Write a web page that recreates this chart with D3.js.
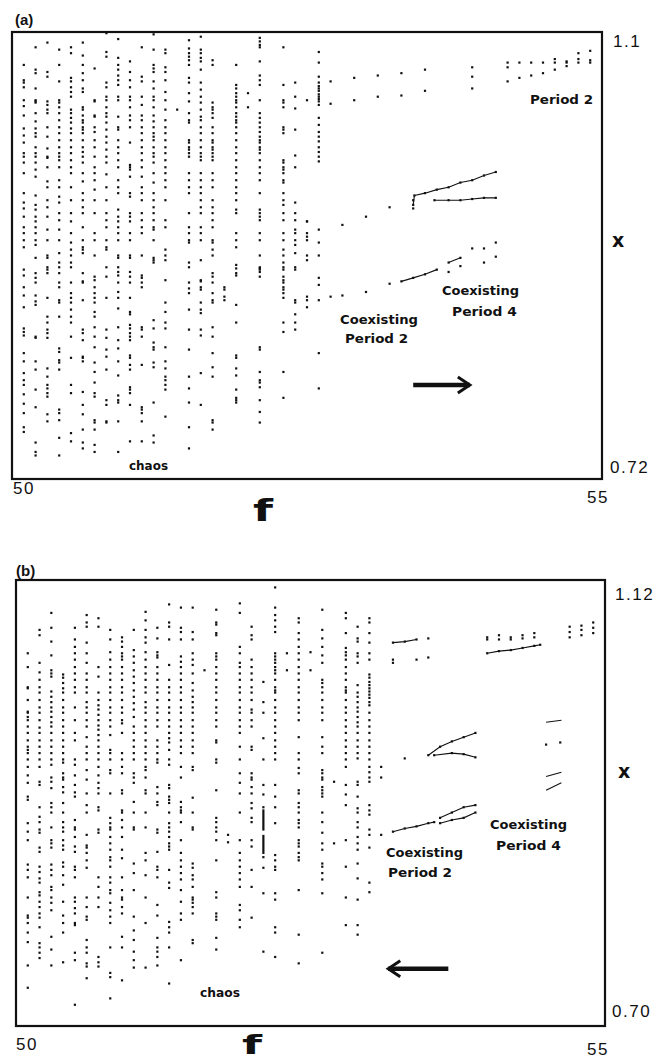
<!DOCTYPE html>
<html>
<head>
<meta charset="utf-8">
<script src="https://cdn.jsdelivr.net/npm/d3@7"></script>
<style>
  body { margin: 0; background: #fff; }
  .tick { font-family: "Liberation Sans", Arial, sans-serif; font-size: 17px; letter-spacing: 1.5px; fill: #111; }
  .note { font-family: "DejaVu Sans Condensed", "DejaVu Sans", sans-serif; font-weight: bold; font-size: 13px; fill: #111; }
  .tag  { font-family: "Liberation Sans", Arial, sans-serif; font-weight: bold; font-size: 15px; fill: #111; }
  .axv  { font-family: "DejaVu Sans", sans-serif; font-weight: bold; fill: #111; }
</style>
</head>
<body>
<script>
// ---------- panel (a): increasing f ----------
// chaotic band, one column of x values per f
var chaosA_f = [50.1, 50.2, 50.3, 50.4, 50.5, 50.6, 50.7, 50.8, 50.9, 51.0, 51.1, 51.2, 51.3,
  51.4, 51.5, 51.6, 51.7, 51.8, 51.9, 52.0, 52.1, 52.3, 52.4, 52.5, 52.6];
var chaosA_x = [
  [1.072,1.059,1.057,1.053,1.042,1.037,1.029,1.018,1.012,1.006,0.997,0.994,0.989,0.980,0.963,0.955,0.950,0.943,0.934,0.929,0.923,0.917,0.898,0.893,0.883,0.876,0.866,0.848,0.845,0.842,0.827,0.820,0.810,0.804,0.800,0.792,0.784,0.776,0.764,0.760],
  [1.087,1.068,1.065,1.052,1.042,1.041,1.040,1.031,1.024,1.018,1.014,1.011,1.002,0.997,0.994,0.989,0.983,0.977,0.961,0.953,0.949,0.943,0.939,0.934,0.929,0.923,0.919,0.908,0.895,0.891,0.887,0.876,0.871,0.868,0.841,0.840,0.820,0.813,0.796,0.781,0.751,0.743,0.740],
  [1.091,1.066,1.062,1.041,1.038,1.034,1.031,1.019,1.011,1.001,0.994,0.993,0.985,0.973,0.968,0.957,0.951,0.943,0.932,0.923,0.910,0.908,0.900,0.898,0.895,0.874,0.858,0.853,0.847,0.844,0.840,0.814,0.807,0.800,0.797,0.793,0.790,0.775,0.769],
  [1.085,1.072,1.058,1.042,1.040,1.036,1.031,1.025,1.019,1.014,1.008,1.002,0.997,0.994,0.991,0.985,0.974,0.968,0.960,0.955,0.946,0.940,0.932,0.923,0.912,0.904,0.900,0.895,0.887,0.883,0.872,0.870,0.858,0.831,0.828,0.821,0.819,0.813,0.779,0.776,0.770,0.755,0.740],
  [1.087,1.082,1.061,1.058,1.053,1.049,1.045,1.034,1.031,1.027,1.023,1.018,1.014,1.008,1.002,0.997,0.991,0.985,0.980,0.968,0.957,0.946,0.939,0.929,0.921,0.915,0.910,0.904,0.900,0.887,0.878,0.874,0.870,0.864,0.858,0.853,0.841,0.823,0.800,0.793,0.759,0.752],
  [1.091,1.080,1.072,1.065,1.059,1.052,1.049,1.036,1.034,1.029,1.025,1.023,1.019,1.017,1.014,1.008,1.002,0.998,0.994,0.989,0.980,0.973,0.963,0.957,0.951,0.946,0.934,0.923,0.917,0.915,0.912,0.895,0.888,0.887,0.872,0.847,0.844,0.838,0.824,0.823,0.820,0.794,0.783,0.775,0.762,0.751,0.746],
  [1.069,1.042,1.041,1.029,1.028,1.019,1.015,1.008,1.002,0.994,0.985,0.980,0.974,0.966,0.957,0.946,0.929,0.923,0.910,0.892,0.889,0.883,0.878,0.874,0.870,0.862,0.858,0.849,0.841,0.832,0.819,0.811,0.802,0.793,0.790,0.770,0.768,0.762,0.749,0.743],
  [1.099,1.083,1.079,1.057,1.053,1.045,1.042,1.036,1.031,1.028,1.023,1.017,1.011,1.006,1.000,0.994,0.989,0.979,0.968,0.957,0.946,0.940,0.934,0.923,0.917,0.915,0.900,0.892,0.874,0.847,0.840,0.830,0.824,0.813,0.787,0.783,0.769,0.768],
  [1.094,1.078,1.072,1.068,1.063,1.059,1.055,1.045,1.042,1.028,1.019,1.017,1.008,1.002,0.997,0.991,0.985,0.974,0.968,0.963,0.949,0.943,0.939,0.934,0.929,0.923,0.910,0.908,0.900,0.896,0.893,0.887,0.879,0.874,0.865,0.849,0.838,0.831,0.820,0.808,0.791,0.787,0.785,0.769,0.743],
  [1.075,1.066,1.059,1.053,1.045,1.042,1.036,1.029,1.025,1.019,1.006,0.987,0.985,0.983,0.977,0.963,0.960,0.946,0.943,0.939,0.929,0.923,0.910,0.908,0.896,0.892,0.887,0.874,0.862,0.860,0.851,0.848,0.844,0.841,0.838,0.825,0.823,0.817,0.813,0.798,0.796,0.793,0.783,0.752],
  [1.087,1.062,1.058,1.045,1.038,1.029,1.025,1.019,1.014,1.008,1.002,0.997,0.991,0.985,0.977,0.968,0.963,0.957,0.946,0.940,0.934,0.929,0.910,0.893,0.891,0.887,0.883,0.849,0.847,0.841,0.817,0.781,0.779,0.776,0.769,0.752],
  [1.098,1.085,1.072,1.069,1.066,1.058,1.052,1.045,1.042,1.036,1.029,1.024,1.019,1.014,1.011,1.008,1.002,0.997,0.994,0.989,0.980,0.972,0.963,0.957,0.951,0.946,0.940,0.934,0.932,0.923,0.908,0.906,0.904,0.855,0.848,0.836,0.832,0.830,0.819,0.815,0.785,0.757,0.751],
  [1.085,1.082,1.070,1.066,1.059,1.049,1.042,1.034,1.025,1.019,1.014,1.008,1.002,0.997,0.991,0.985,0.980,0.974,0.968,0.957,0.940,0.934,0.915,0.910,0.906,0.889,0.870,0.862,0.853,0.848,0.832,0.820,0.814,0.807,0.804,0.800,0.796,0.773],
  [1.034],
  [1.093,1.086,1.082,1.079,1.076,1.072,1.061,1.057,1.048,1.041,1.031,1.025,1.023,1.008,1.006,1.002,1.000,0.997,0.994,0.980,0.974,0.968,0.963,0.946,0.934,0.929,0.923,0.921,0.904,0.900,0.887,0.882,0.878,0.864,0.847,0.830,0.807,0.797,0.785,0.764,0.746],
  [1.096,1.085,1.082,1.078,1.075,1.068,1.057,1.051,1.045,1.040,1.034,1.028,1.025,1.019,1.014,1.008,1.002,0.997,0.994,0.991,0.980,0.974,0.968,0.963,0.957,0.951,0.946,0.934,0.929,0.923,0.906,0.889,0.888,0.883,0.881,0.870,0.864,0.861,0.847,0.842,0.810,0.783],
  [1.076,1.072,1.040,1.036,1.034,1.031,1.027,1.019,1.014,1.008,1.006,1.002,1.000,0.997,0.994,0.991,0.980,0.974,0.968,0.957,0.951,0.946,0.940,0.934,0.923,0.921,0.915,0.910,0.895,0.892,0.887,0.878,0.872,0.870,0.849,0.841,0.827,0.815,0.807,0.770,0.768,0.762],
  [0.883,0.881,0.875,0.872],
  [1.072,1.055,1.052,1.048,1.045,1.042,1.040,1.036,1.031,1.028,1.025,1.023,1.019,1.014,1.008,1.002,0.997,0.991,0.985,0.980,0.974,0.968,0.963,0.957,0.949,0.946,0.929,0.923,0.917,0.902,0.899,0.895,0.893,0.868,0.853,0.825,0.823,0.814,0.808,0.796,0.789,0.787,0.785],
  [1.048,1.036],
  [1.095,1.092,1.089,1.087,1.075,1.063,1.059,1.055,1.042,1.031,1.027,1.023,1.019,1.015,1.011,1.008,1.006,1.002,1.000,0.997,0.991,0.985,0.980,0.974,0.963,0.949,0.946,0.943,0.940,0.929,0.923,0.910,0.900,0.899,0.898,0.896,0.892,0.832,0.830,0.811,0.804,0.802,0.798,0.787,0.777,0.768],
  [1.087,1.055,1.042,1.040,1.036,1.019,1.017,1.014,0.991,0.989,0.985,0.983,0.980,0.974,0.972,0.963,0.957,0.953,0.946,0.940,0.929,0.923,0.915,0.910,0.904,0.900,0.898,0.892,0.889,0.887,0.883,0.881,0.878,0.874,0.853,0.845,0.811,0.789],
  [1.057,1.045,1.035,1.017,0.995,0.985,0.955,0.946,0.940,0.932,0.929,0.923,0.919,0.912,0.900,0.898,0.872,0.870,0.860,0.853,0.847],
  [1.042,0.939,0.929,0.926,0.923,0.910,0.906,0.875,0.872,0.866],
  [1.083,1.074,1.062,1.057,1.054,1.052,1.050,1.047,1.045,1.043,1.041,1.038,1.027,1.021,1.015,1.011,1.007,1.002,0.998,0.994,0.990,0.932,0.921,0.910,0.891,0.885,0.872,0.827,0.797]
];
// main period-2 branch
var p2A_f = [52.7,52.7,52.9,52.9,53.1,53.1,53.3,53.3,53.5,53.5,53.9,53.9,53.9,54.2,54.2,54.2,54.3,54.3,54.4,54.4,54.5,54.5,54.6,54.6,54.6,54.7,54.7,54.7,54.8,54.8,54.8,54.9,54.9,54.9];
var p2A_x = [1.058,1.039,1.061,1.042,1.063,1.045,1.065,1.046,1.068,1.050,1.070,1.062,1.052,1.074,1.070,1.058,1.074,1.061,1.074,1.063,1.074,1.065,1.077,1.074,1.068,1.075,1.074,1.071,1.082,1.077,1.074,1.084,1.076,1.074];
// coexisting period 2 / period 4 branches
var coexUpA   = [[52.5,0.939],[52.8,0.936],[53.0,0.943],[53.2,0.951],[53.4,0.950],[53.4,0.953],[53.4,0.957]];
var p4UpHiA   = [[53.41,0.961],[53.5,0.963],[53.6,0.966],[53.7,0.968],[53.8,0.972],[53.9,0.974],[54.0,0.978],[54.1,0.981]];
var p4UpLoA   = [[53.58,0.957],[53.7,0.957],[53.8,0.957],[53.9,0.958],[54.0,0.959],[54.1,0.959]];
var coexLoA   = [[52.7,0.875],[52.8,0.876],[53.0,0.879],[53.2,0.886],[53.3,0.888],[53.4,0.891],[53.5,0.894],[53.6,0.898]];
var p4LoHiA   = [[53.7,0.904],[53.8,0.908],[53.9,0.916],[54.0,0.916],[54.1,0.921]];
var p4LoLoA   = [[53.7,0.896],[53.8,0.901],[54.0,0.904],[54.1,0.909]];

// ---------- panel (b): decreasing f ----------
var chaosB_f = [50.1, 50.2, 50.3, 50.4, 50.5, 50.6, 50.7, 50.8, 50.9, 51.0, 51.1, 51.2, 51.3, 51.4, 51.5, 51.6,
  51.7, 51.8, 51.9, 52.0, 52.1, 52.2, 52.3, 52.4, 52.5, 52.6, 52.7, 52.8, 52.9, 53.0, 53.1];
var chaosB_x = [
  [1.051,1.038,1.019,1.018,1.007,0.996,0.995,0.991,0.988,0.982,0.976,0.969,0.963,0.960,0.957,0.951,0.944,0.936,0.929,0.916,0.913,0.891,0.883,0.875,0.852,0.847,0.840,0.821,0.804,0.802,0.797,0.788,0.779,0.757,0.736],
  [1.073,1.068,1.042,1.033,1.026,1.019,1.014,1.007,1.000,0.995,0.988,0.981,0.976,0.969,0.963,0.957,0.951,0.944,0.930,0.927,0.906,0.897,0.892,0.885,0.882,0.868,0.864,0.850,0.845,0.839,0.835,0.826,0.823,0.817,0.812,0.806,0.802,0.793,0.778,0.774,0.769,0.764],
  [1.089,1.075,1.062,1.049,1.035,1.032,1.029,1.015,1.010,1.005,1.000,0.996,0.991,0.986,0.982,0.976,0.969,0.963,0.957,0.951,0.946,0.934,0.930,0.924,0.910,0.906,0.901,0.887,0.875,0.872,0.868,0.852,0.847,0.842,0.831,0.828,0.821,0.816,0.809,0.784,0.772,0.757],
  [1.031,1.028,1.023,1.018,1.014,1.007,1.000,0.995,0.988,0.982,0.976,0.969,0.963,0.957,0.951,0.948,0.938,0.934,0.932,0.925,0.920,0.910,0.901,0.892,0.887,0.883,0.875,0.870,0.866,0.854,0.850,0.842,0.833,0.817,0.804,0.797,0.788,0.760],
  [1.075,1.064,1.057,1.051,1.045,1.038,1.032,1.026,1.019,1.014,1.000,0.988,0.976,0.969,0.951,0.946,0.936,0.927,0.920,0.916,0.894,0.887,0.885,0.878,0.869,0.864,0.850,0.847,0.840,0.821,0.817,0.811,0.806,0.797,0.795,0.769,0.762,0.720],
  [1.087,1.080,1.076,1.061,1.051,1.042,1.032,1.026,1.019,1.014,1.005,1.000,0.995,0.988,0.982,0.972,0.963,0.957,0.951,0.941,0.932,0.919,0.908,0.901,0.880,0.870,0.868,0.863,0.856,0.849,0.821,0.812,0.803,0.800,0.781,0.774,0.769,0.759,0.756,0.745],
  [1.084,1.076,1.038,1.029,1.014,1.007,1.002,0.998,0.993,0.988,0.983,0.979,0.974,0.969,0.963,0.957,0.951,0.944,0.936,0.929,0.924,0.919,0.906,0.903,0.885,0.882,0.840,0.831,0.821,0.812,0.765,0.760,0.756],
  [1.073,1.064,1.052,1.045,1.038,1.032,1.026,1.019,1.014,1.007,1.000,0.995,0.988,0.982,0.974,0.960,0.957,0.951,0.941,0.938,0.919,0.896,0.891,0.887,0.885,0.878,0.872,0.866,0.859,0.856,0.850,0.840,0.835,0.828,0.825,0.816,0.809,0.803,0.797,0.774,0.750,0.746,0.726],
  [1.066,1.062,1.057,1.051,1.048,1.045,1.038,1.032,1.026,1.019,1.014,1.007,1.000,0.995,0.988,0.985,0.976,0.957,0.951,0.944,0.938,0.922,0.919,0.903,0.901,0.894,0.887,0.878,0.866,0.858,0.840,0.828,0.821,0.819,0.812,0.806,0.784,0.774,0.743],
  [1.073,1.054,1.048,1.042,1.035,1.029,1.023,1.016,1.010,1.004,0.998,0.991,0.982,0.976,0.969,0.963,0.957,0.951,0.938,0.934,0.929,0.911,0.901,0.887,0.885,0.853,0.844,0.828,0.803,0.790,0.781,0.770,0.762,0.755],
  [1.090,1.082,1.073,1.066,1.061,1.052,1.045,1.038,1.032,1.026,1.019,1.014,1.005,1.000,0.995,0.988,0.982,0.976,0.969,0.963,0.957,0.951,0.944,0.941,0.934,0.922,0.919,0.901,0.887,0.863,0.856,0.842,0.821,0.797,0.755],
  [1.075,1.065,1.052,1.049,1.047,1.038,1.032,1.026,1.019,1.014,1.007,1.000,0.995,0.988,0.982,0.969,0.963,0.957,0.951,0.948,0.925,0.919,0.911,0.908,0.885,0.882,0.864,0.850,0.847,0.840,0.814,0.804,0.783,0.774,0.770,0.765,0.757],
  [1.097,1.080,1.076,1.064,1.040,1.026,1.019,1.014,1.007,1.000,0.995,0.988,0.982,0.976,0.971,0.967,0.960,0.951,0.946,0.927,0.924,0.916,0.913,0.910,0.901,0.891,0.887,0.883,0.878,0.872,0.869,0.866,0.847,0.835,0.830,0.798,0.793,0.788,0.774,0.740],
  [1.094,1.075,1.071,1.064,1.048,1.043,1.038,1.032,1.026,1.019,1.014,1.007,1.000,0.995,0.988,0.982,0.976,0.969,0.963,0.957,0.944,0.934,0.911,0.906,0.903,0.901,0.892,0.875,0.863,0.856,0.850,0.844,0.838,0.828,0.817,0.806,0.800,0.762],
  [1.094,1.071,1.064,1.051,1.045,1.040,1.032,1.023,1.016,1.010,1.005,1.000,0.995,0.988,0.982,0.976,0.969,0.963,0.957,0.944,0.941,0.915,0.901,0.887,0.885,0.853,0.849,0.842,0.838,0.831,0.821,0.819,0.816,0.812,0.806,0.781,0.778],
  [1.035],
  [1.092,1.080,1.078,1.070,1.068,1.051,1.048,1.045,1.038,1.032,1.026,1.019,1.014,1.007,1.000,0.995,0.988,0.982,0.969,0.967,0.951,0.948,0.922,0.896,0.892,0.887,0.883,0.875,0.856,0.826,0.821,0.806,0.803,0.800,0.783,0.772],
  [0.880,0.873],
  [1.098,1.089,1.057,1.051,1.042,1.038,1.032,1.026,1.019,1.014,1.007,1.000,0.995,0.988,0.982,0.976,0.963,0.951,0.938,0.929,0.919,0.901,0.875,0.863,0.856,0.850,0.844,0.838,0.831,0.814,0.809,0.800,0.793],
  [1.076,1.068,1.064,1.045,1.038,1.032,1.026,1.019,1.014,1.007,0.998,0.995,0.988,0.982,0.963,0.960,0.938,0.934,0.932,0.925,0.919,0.910,0.905,0.896,0.892,0.875,0.869,0.847,0.831,0.802],
  [1.024,1.005,0.995,0.971,0.951,0.927,0.918,0.906,0.859,0.849,0.825,0.770],
  [1.113,1.094,1.087,1.082,1.076,1.071,1.051,1.048,1.045,1.042,1.038,1.035,1.032,1.026,1.019,1.016,1.014,1.007,1.000,0.995,0.988,0.982,0.976,0.969,0.963,0.957,0.951,0.927,0.916,0.906,0.891,0.861,0.856,0.850,0.847,0.825,0.819,0.793,0.788,0.765],
  [1.051,1.035],
  [1.084,1.080,1.070,1.064,1.057,1.051,1.045,1.038,1.032,1.026,1.019,1.014,1.007,1.000,0.995,0.988,0.972,0.957,0.951,0.943,0.938,0.922,0.919,0.910,0.906,0.901,0.894,0.891,0.887,0.875,0.872,0.869,0.863,0.859,0.856,0.828,0.786,0.759],
  [1.052,1.035],
  [1.092,1.073,1.065,1.057,1.049,1.042,1.026,1.023,1.019,1.014,1.007,1.000,0.995,0.988,0.972,0.963,0.957,0.941,0.938,0.934,0.932,0.925,0.922,0.919,0.916,0.901,0.892,0.882,0.872,0.866,0.853,0.850,0.844,0.838,0.825,0.769],
  [0.930,0.872],
  [1.089,1.084,1.070,1.056,1.052,1.049,1.045,1.038,1.032,1.026,1.019,1.016,1.014,1.007,1.000,0.995,0.988,0.982,0.976,0.969,0.963,0.957,0.951,0.944,0.927,0.918,0.908,0.875,0.850,0.821,0.795],
  [1.076,1.065,1.062,1.051,1.048,1.042,1.021,1.014,1.010,1.005,1.000,0.996,0.991,0.986,0.982,0.976,0.969,0.963,0.957,0.952,0.930,0.927,0.916,0.905,0.901,0.892,0.887,0.878,0.872,0.866,0.853,0.839,0.819,0.795,0.786],
  [1.084,1.080,1.070,1.061,1.051,1.045,1.031,1.028,1.024,1.021,1.018,1.015,1.012,1.009,1.005,1.002,0.995,0.988,0.982,0.976,0.969,0.963,0.957,0.951,0.944,0.939,0.934,0.930,0.908,0.903,0.899,0.885,0.880,0.868,0.835,0.826],
  [0.944,0.934,0.880]
];
// solid vertical runs of points: [f, x top, x bottom]
var runsB = [[52.1, 0.904, 0.884], [52.1, 0.880, 0.862]];
// period-2 branch dots
var p2B_f = [53.2,53.3,53.4,53.5,53.2,53.2,53.4,53.5,54.0,54.0,54.1,54.1,54.2,54.2,54.3,54.3,54.4,54.4,54.7,54.7,54.7,54.8,54.8,54.8,54.9,54.9,54.9];
var p2B_x = [1.061,1.062,1.064,1.065,1.045,1.042,1.045,1.047,1.066,1.064,1.068,1.064,1.066,1.064,1.068,1.065,1.070,1.066,1.076,1.071,1.066,1.077,1.073,1.068,1.080,1.075,1.070];
var p2LineB1 = [[53.2,1.061],[53.3,1.062],[53.4,1.064]];
var p2LineB2 = [[54.0,1.051],[54.1,1.053],[54.2,1.054],[54.3,1.056],[54.4,1.058],[54.45,1.059]];
// coexisting branches
var coexUpB   = [[53.3,0.952]];
var p4UpHiB   = [[53.5,0.955],[53.6,0.963],[53.7,0.968],[53.8,0.972],[53.9,0.976]];
var p4UpLoB   = [[53.55,0.955],[53.7,0.957],[53.8,0.956],[53.9,0.953]];
var coexLoB   = [[53.2,0.883],[53.3,0.886],[53.4,0.888],[53.5,0.891],[53.55,0.892]];
var p4LoHiB   = [[53.6,0.896],[53.7,0.901],[53.8,0.906],[53.9,0.908]];
var p4LoLoB   = [[53.6,0.891],[53.7,0.894],[53.8,0.896],[53.9,0.901]];
var p4RightB  = [[[54.5,0.986],[54.63,0.988]], [[54.5,0.935],[54.63,0.939]], [[54.5,0.922],[54.63,0.929]]];
var p4RightDotsB = [[54.5,0.965],[54.62,0.967]];

var svg = d3.select("body").append("svg").attr("width", 667).attr("height", 1060);

function pairs(fs, xs) {
  var out = [];
  fs.forEach(function(f, i) {
    var col = Array.isArray(xs[i]) ? xs[i] : [xs[i]];
    col.forEach(function(v) { out.push([f, v]); });
  });
  return out;
}

function drawPanel(o) {
  var x = d3.scaleLinear().domain([50, 55]).range([o.left, o.right]);
  var y = d3.scaleLinear().domain(o.ydom).range([o.bottom, o.top]);
  var g = svg.append("g");
  var line = d3.line().x(function(d) { return x(d[0]); }).y(function(d) { return y(d[1]); });

  g.append("rect")
    .attr("x", o.left).attr("y", o.top)
    .attr("width", o.right - o.left).attr("height", o.bottom - o.top)
    .attr("fill", "none").attr("stroke", "#111").attr("stroke-width", 2.2);

  g.selectAll("rect.pt").data(o.dots).enter().append("rect")
    .attr("class", "pt")
    .attr("x", function(d) { return x(d[0]) - 1.1; })
    .attr("y", function(d) { return y(d[1]) - 1.1; })
    .attr("width", 2.2).attr("height", 2.2)
    .attr("fill", "#111");

  o.lines.forEach(function(l) {
    g.append("path").attr("d", line(l)).attr("fill", "none")
      .attr("stroke", "#111").attr("stroke-width", 1.1);
  });

  (o.runs || []).forEach(function(r) {
    g.append("line")
      .attr("x1", x(r[0])).attr("x2", x(r[0]))
      .attr("y1", y(r[1])).attr("y2", y(r[2]))
      .attr("stroke", "#111").attr("stroke-width", 2.2);
  });

  // direction arrow
  var a = o.arrow, ay = y(a.x), x0 = x(a.f0), x1 = x(a.f1);
  var tip = a.dir > 0 ? x1 : x0;
  g.append("line").attr("x1", x0).attr("x2", x1).attr("y1", ay).attr("y2", ay)
    .attr("stroke", "#111").attr("stroke-width", 4.5);
  g.append("path")
    .attr("d", "M" + (tip - a.dir * 12) + "," + (ay - 8) + "L" + tip + "," + ay + "L" + (tip - a.dir * 12) + "," + (ay + 8))
    .attr("fill", "none").attr("stroke", "#111").attr("stroke-width", 3);

  o.texts.forEach(function(t) {
    var el = g.append("text").attr("class", t.c).attr("x", t.x).attr("y", t.y).text(t.s);
    if (t.w) el.attr("textLength", t.w).attr("lengthAdjust", "spacingAndGlyphs");
    if (t.size) el.style("font-size", t.size + "px");
  });
}

drawPanel({
  left: 12, right: 602, top: 32, bottom: 479, ydom: [0.72, 1.1],
  dots: pairs(chaosA_f, chaosA_x).concat(pairs(p2A_f, p2A_x), coexUpA, p4UpHiA, p4UpLoA, coexLoA, p4LoHiA, p4LoLoA),
  lines: [p4UpHiA, p4UpLoA, coexLoA.slice(4), p4LoHiA.slice(0, 2), [[53.4, 0.953], [53.41, 0.961]]],
  arrow: { f0: 53.40, f1: 53.88, x: 0.800, dir: 1 },
  texts: [
    { c: "tag", x: 15, y: 25, s: "(a)" },
    { c: "tick", x: 613, y: 47, s: "1.1" },
    { c: "tick", x: 610, y: 473, s: "0.72" },
    { c: "tick", x: 13, y: 494, s: "50" },
    { c: "tick", x: 587, y: 503, s: "55" },
    { c: "axv", x: 612, y: 247, s: "x", size: 19 },
    { c: "axv", x: 253, y: 521, s: "f", size: 30, w: 20 },
    { c: "note", x: 129, y: 470, s: "chaos", w: 39 },
    { c: "note", x: 530, y: 104, s: "Period 2", w: 63 },
    { c: "note", x: 442, y: 295, s: "Coexisting", w: 77 },
    { c: "note", x: 452, y: 316, s: "Period 4", w: 65 },
    { c: "note", x: 340, y: 324, s: "Coexisting", w: 78 },
    { c: "note", x: 345, y: 343, s: "Period 2", w: 63 }
  ]
});

drawPanel({
  left: 16, right: 605, top: 580, bottom: 1026, ydom: [0.70, 1.12],
  dots: pairs(chaosB_f, chaosB_x).concat(pairs(p2B_f, p2B_x), p2LineB2, coexUpB, p4UpHiB, p4UpLoB, coexLoB, p4LoHiB, p4LoLoB, p4RightDotsB),
  lines: [p2LineB1, p2LineB2, p4UpHiB, p4UpLoB, coexLoB, p4LoHiB, p4LoLoB].concat(p4RightB),
  runs: runsB,
  arrow: { f0: 53.16, f1: 53.67, x: 0.754, dir: -1 },
  texts: [
    { c: "tag", x: 16, y: 576, s: "(b)" },
    { c: "tick", x: 615, y: 600, s: "1.12" },
    { c: "tick", x: 612, y: 1017, s: "0.70" },
    { c: "tick", x: 16, y: 1050, s: "50" },
    { c: "tick", x: 587, y: 1055, s: "55" },
    { c: "axv", x: 618, y: 778, s: "x", size: 19 },
    { c: "axv", x: 242, y: 1054, s: "f", size: 26, w: 20 },
    { c: "note", x: 200, y: 997, s: "chaos", w: 40 },
    { c: "note", x: 490, y: 829, s: "Coexisting", w: 77 },
    { c: "note", x: 496, y: 850, s: "Period 4", w: 65 },
    { c: "note", x: 386, y: 857, s: "Coexisting", w: 77 },
    { c: "note", x: 388, y: 877, s: "Period 2", w: 64 }
  ]
});
</script>
</body>
</html>
